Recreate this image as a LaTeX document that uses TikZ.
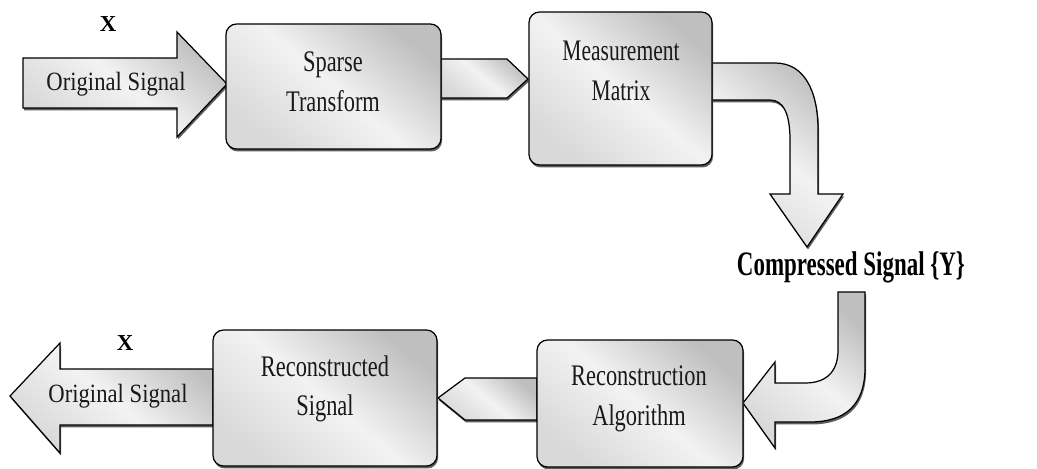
\documentclass[tikz,border=0pt]{standalone}
\usepackage{fontspec}
\setmainfont{Liberation Serif}
\usetikzlibrary{shadows,fit}
\newcommand{\hsq}[2]{\scalebox{#1}[1]{#2}}
\tikzset{
 gshade/.style={top color=gray!50, bottom color=gray!30, middle color=gray!10, shading angle=-40},
 shad/.style={drop shadow={shadow xshift=0.6pt, shadow yshift=-1.4pt, fill=black!70, opacity=0.9}},
 box/.style={draw=black, line width=0.7pt, rounded corners=6pt, gshade, shad, inner sep=0pt},
 blk/.style={draw=black, line width=0.7pt, gshade, shad},
 lbl/.style={font=\fontsize{17}{22.5}\selectfont, align=center, text=black!90, inner sep=0pt},
 albl/.style={font=\fontsize{15}{18}\selectfont, text=black!90, inner sep=0pt},
 xlbl/.style={font=\bfseries\fontsize{13}{15}\selectfont, inner sep=0pt},
}
\begin{document}
\begin{tikzpicture}[x=0.02cm, y=-0.02cm]
\useasboundingbox (0,0) rectangle (1037,469);
% block arrows
\path[blk] (23,58) -- (177,58) -- (177,32) -- (227,84) -- (177,137) -- (177,108) -- (23,108) -- cycle;
\path[blk] (441,59) -- (507,59) -- (528,79) -- (507,98) -- (441,98) -- cycle;
\path[blk] (712,63) -- (775,63) .. controls (805,63) and (818,92) .. (818,130) -- (818,194) -- (843,194) -- (807,247) -- (770,194) -- (790,194) -- (790,140) .. controls (790,115) and (784,100) .. (770,100) -- (712,100) -- cycle;
\path[blk] (838,292) -- (865,292) -- (865,368) .. controls (865,405) and (845,422) .. (810,422) -- (775,422) -- (775,448) -- (743,403) -- (775,362) -- (775,383) -- (805,383) .. controls (828,383) and (838,370) .. (838,350) -- cycle;
\path[blk] (537,378) -- (465,378) -- (438,398) -- (465,420) -- (537,420) -- cycle;
\path[blk] (213,369) -- (60,369) -- (60,343) -- (10,396) -- (60,453) -- (60,425) -- (213,425) -- cycle;
% boxes
\node[box, fit={(226,24) (441,149)}] (b1) {};
\node[box, fit={(529,12) (712,165)}] (b2) {};
\node[box, fit={(537,340) (743,467)}] (b3) {};
\node[box, fit={(213,330) (437,466)}] (b4) {};
% labels
\node[lbl] (t1) at (333,82) {\hsq{0.75}{Sparse}\\\hsq{0.75}{Transform}};
\node[lbl] (t2) at (621,71) {\hsq{0.72}{Measurement}\\\hsq{0.72}{Matrix}};
\node[lbl] (t3) at (639,399) {\hsq{0.75}{Reconstruction}\\\hsq{0.75}{Algorithm}};
\node[lbl] (t4) at (325,389) {\hsq{0.75}{Reconstructed}\\\hsq{0.75}{Signal}};
\node[albl] (o1) at (116,84) {\hsq{0.86}{Original Signal}};
\node[albl] (o2) at (118,396) {\hsq{0.86}{Original Signal}};
\node[xlbl] (x1) at (108,24) {X};
\node[xlbl] (x2) at (125,343) {X};
\node[font=\bfseries\fontsize{19.5}{22}\selectfont, inner sep=0pt] (cs) at (851,267) {\hsq{0.67}{Compressed Signal \{Y\}}};
\end{tikzpicture}
\end{document}
